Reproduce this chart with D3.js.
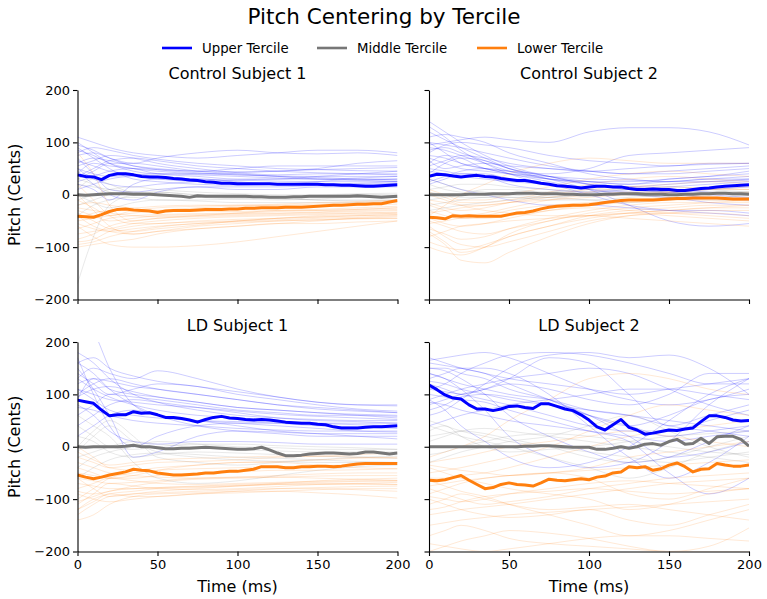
<!DOCTYPE html>
<html><head><meta charset="utf-8">
<script src="https://cdn.jsdelivr.net/npm/d3@7"></script>
<style>
body{margin:0;background:#fff}
svg{display:block}
text{font-family:"DejaVu Sans",sans-serif;fill:#000}
</style>
</head><body><svg id="chart" width="767" height="599"></svg>
<script>
// ---------------- DATA ----------------
const chartTitle = "Pitch Centering by Tercile";
const panelTitles = ["Control Subject 1", "Control Subject 2", "LD Subject 1", "LD Subject 2"];
const seriesNames = ["Upper Tercile", "Middle Tercile", "Lower Tercile"];
const seriesColors = ["#0000ff", "#777777", "#ff7f0e"];
const xTicks = [0, 50, 100, 150, 200];
const yTicks = [-200, -100, 0, 100, 200];
const xLabel = "Time (ms)";
const yLabel = "Pitch (Cents)";

// time grid of the tercile means (ms)
const meanTimes = [0,5,10,15,20,25,30,35,40,45,50,55,60,65,70,75,80,85,90,95,100,105,110,115,120,125,130,135,140,145,150,155,160,165,170,175,180,185,190,195,200];
// time grid of the single-trial traces (ms)
const trialTimes = [0,10,20,35,50,75,100,125,150,175,200];

// Control Subject 1 means
const cs1Upper  = [38,35,34,29,37,40,40,38,35,34,34,33,31,30,28,27,25,24,22,22,21,21,21,21,21,20,20,20,20,20,20,19,19,18,18,17,16,16,17,18,19];
const cs1Middle = [0,-1,0,1,2,2,2,1,1,1,0,-1,-2,-3,-5,-2,-3,-3,-3,-3,-3,-3,-4,-4,-5,-5,-5,-4,-4,-3,-3,-3,-3,-3,-3,-2,-3,-4,-5,-4,-3];
const cs1Lower  = [-41,-42,-43,-38,-32,-28,-27,-29,-30,-31,-34,-31,-30,-30,-30,-29,-28,-28,-28,-27,-27,-26,-26,-25,-25,-25,-24,-24,-24,-23,-22,-21,-20,-20,-19,-18,-18,-17,-17,-14,-11];
// Control Subject 2 means
const cs2Upper  = [35,39,38,36,34,36,37,35,34,31,29,27,27,25,22,20,17,16,15,13,15,16,16,15,15,12,10,10,11,10,10,8,8,10,12,13,15,16,17,18,19];
const cs2Middle = [0,0,0,0,0,1,1,1,2,2,2,3,3,3,2,2,2,1,1,0,0,0,1,1,2,2,2,1,1,1,0,0,1,1,2,2,3,3,2,2,1];
const cs2Lower  = [-43,-44,-46,-40,-41,-40,-41,-41,-41,-41,-38,-35,-34,-31,-27,-24,-22,-21,-20,-20,-19,-17,-15,-13,-11,-10,-10,-10,-10,-9,-8,-7,-7,-6,-6,-6,-6,-7,-8,-8,-8];
// LD Subject 1 means
const ld1Upper  = [89,86,83,70,59,61,61,67,64,65,61,56,56,54,51,47,52,56,58,55,54,52,51,52,51,49,47,46,45,45,43,42,38,36,36,36,37,38,38,39,40];
const ld1Middle = [0,-1,0,0,0,0,1,3,0,0,-2,-4,-4,-3,-3,-2,-1,-2,-3,-4,-5,-5,-4,-1,-6,-12,-17,-17,-16,-14,-13,-12,-12,-13,-14,-13,-10,-10,-12,-14,-12];
const ld1Lower  = [-54,-58,-61,-58,-54,-51,-48,-43,-45,-46,-50,-52,-54,-54,-53,-52,-50,-50,-48,-47,-47,-45,-43,-38,-38,-38,-40,-40,-38,-38,-37,-37,-38,-37,-35,-33,-32,-32,-32,-32,-32];
// LD Subject 2 means
const ld2Upper  = [118,109,99,93,91,80,72,72,69,72,77,78,75,73,82,82,77,72,69,61,51,38,32,42,52,37,32,24,26,29,32,31,34,36,48,59,59,56,51,49,50];
const ld2Middle = [0,0,0,0,0,0,0,0,0,0,0,0,1,1,2,2,1,0,-1,-1,-1,-5,-5,-3,0,-3,0,5,6,3,10,14,5,6,16,6,19,20,20,14,1];
const ld2Lower  = [-64,-65,-63,-59,-55,-64,-72,-80,-78,-72,-69,-72,-73,-75,-69,-62,-64,-65,-63,-61,-63,-58,-56,-50,-48,-38,-40,-38,-45,-42,-35,-31,-38,-48,-43,-42,-32,-35,-37,-37,-35];

// single-trial traces, Control Subject 1
const cs1UpperTrials = [
  [110,100,90,80,75,70,75,80,85,85,80],
  [75,80,70,60,70,80,85,80,78,80,75],
  [60,70,65,55,50,45,50,55,55,55,55],
  [40,60,55,50,40,35,30,30,35,40,45],
  [20,10,-10,20,30,30,25,20,25,30,30],
  [50,30,20,15,20,25,28,30,30,32,35],
  [90,70,50,30,25,20,18,20,20,20,22],
  [30,45,60,60,55,45,40,35,30,28,25],
  [70,40,10,5,10,15,15,15,18,20,20],
  [55,65,75,70,60,50,42,38,40,40,40],
  [100,80,60,45,40,40,42,45,50,60,65],
  [45,20,0,-10,5,15,10,10,15,15,15],
  [85,75,60,50,45,40,38,36,35,35,35],
  [35,50,65,70,65,55,50,45,42,40,38],
  [65,55,45,40,35,30,28,26,25,25,25],
  [25,35,45,50,48,45,44,45,48,50,52],
  [95,85,70,55,48,42,38,35,33,30,28],
  [10,20,30,35,30,25,22,20,20,22,25],
  [80,90,85,75,68,60,55,50,48,46,45],
  [50,40,35,38,40,38,35,32,30,28,30]
];
const cs1MiddleTrials = [
  [-170,-80,-20,0,5,0,-5,-5,-3,0,-2],
  [20,15,10,5,0,-5,-8,-10,-8,-5,-5],
  [-20,-10,0,5,0,-3,-5,-5,-2,0,0],
  [10,30,20,5,5,0,0,-3,-5,-5,-5],
  [-40,-20,-10,-5,-10,-10,-8,-5,-10,-10,-10],
  [30,20,5,0,-2,-5,-5,-8,-10,-12,-12],
  [-10,0,10,15,10,5,2,0,0,2,3],
  [0,-15,-25,-15,-10,-12,-15,-15,-15,-15,-15]
];
const cs1LowerTrials = [
  [-60,-80,-95,-100,-100,-97,-90,-80,-70,-60,-50],
  [-90,-85,-70,-60,-55,-52,-50,-48,-45,-43,-40],
  [-40,-60,-70,-75,-70,-65,-60,-55,-50,-45,-45],
  [0,-30,-60,-75,-70,-60,-55,-50,-48,-45,-42],
  [-30,-40,-50,-45,-40,-38,-36,-35,-33,-30,-28],
  [-50,-45,-40,-35,-30,-25,-22,-20,-18,-15,-12],
  [-75,-70,-65,-55,-50,-45,-42,-40,-38,-35,-33],
  [-20,-15,-20,-25,-22,-20,-20,-18,-15,-13,-10],
  [-100,-95,-90,-85,-75,-65,-60,-55,-55,-52,-50],
  [80,40,-20,-50,-45,-40,-35,-30,-30,-28,-25],
  [-10,-25,-40,-30,-25,-22,-20,-20,-22,-20,-18],
  [-55,-65,-70,-65,-60,-55,-50,-45,-42,-40,-38],
  [-85,-75,-60,-50,-45,-42,-40,-38,-36,-35,-35],
  [-35,-50,-65,-70,-65,-58,-50,-45,-40,-38,-35],
  [-65,-55,-45,-40,-38,-36,-35,-32,-30,-28,-25],
  [-45,-35,-30,-28,-30,-32,-32,-30,-28,-25,-22],
  [-95,-90,-80,-70,-62,-55,-52,-50,-48,-46,-45],
  [20,-10,-40,-55,-55,-50,-47,-45,-43,-40,-38],
  [-25,-30,-35,-40,-42,-40,-38,-36,-34,-32,-30]
];
// single-trial traces, Control Subject 2
const cs2UpperTrials = [
  [140,120,100,75,55,35,20,10,5,0,-5],
  [95,100,105,110,105,100,120,128,128,120,95],
  [80,95,100,95,90,75,65,60,55,60,60],
  [60,75,70,50,45,40,50,75,80,85,90],
  [120,105,90,70,50,30,10,-20,-50,-60,-55],
  [50,45,40,40,30,20,0,-20,-30,-35,-40],
  [40,60,70,65,50,35,25,20,25,30,35],
  [75,70,60,50,40,25,10,0,-5,-15,-20],
  [20,30,40,35,20,10,5,10,15,20,25],
  [100,80,60,50,40,30,25,20,30,35,45],
  [30,20,10,0,-10,-20,-20,-25,-30,-30,-35],
  [65,50,55,60,55,50,45,40,45,50,55],
  [110,115,110,100,80,60,40,30,25,30,30],
  [90,85,75,60,45,30,25,25,30,35,40],
  [70,60,50,45,40,35,30,28,25,25,28],
  [130,110,85,60,40,20,10,5,0,-5,-10],
  [55,65,75,70,60,50,45,50,55,58,60],
  [85,90,80,65,50,35,20,10,5,10,15],
  [45,40,35,30,25,20,15,15,20,25,30],
  [100,95,90,80,70,55,45,40,40,45,50],
  [25,35,45,50,45,30,20,15,10,5,0]
];
const cs2MiddleTrials = [
  [10,15,20,20,15,10,5,0,-5,-5,0],
  [-20,-15,-10,-5,-5,-10,-10,-5,0,5,5],
  [30,20,10,5,0,-5,-10,-15,-10,-5,-5],
  [-10,-5,0,10,10,5,5,10,15,10,5],
  [20,10,5,0,-5,-5,0,5,5,5,5],
  [-30,-25,-20,-15,-10,-5,0,0,-5,-10,-10],
  [5,0,-5,-5,0,5,10,10,5,0,0]
];
const cs2LowerTrials = [
  [-100,-110,-115,-100,-80,-60,-40,-30,-25,-20,-20],
  [-60,-80,-95,-100,-90,-70,-50,-40,-35,-30,-30],
  [-20,-30,-40,-35,-25,-10,0,5,5,10,10],
  [-40,-20,0,20,40,60,70,65,60,60,60],
  [-80,-70,-60,-55,-50,-45,-40,-35,-40,-45,-50],
  [0,-10,-20,-30,-35,-40,-40,-35,-30,-25,-20],
  [-50,-60,-70,-75,-65,-50,-35,-25,-20,-15,-10],
  [-10,-15,-20,-20,-15,-5,5,15,20,25,20],
  [-70,-90,-110,-100,-75,-50,-40,-45,-50,-55,-60],
  [-30,-40,-45,-40,-30,-20,-15,-10,-5,0,5],
  [10,0,-10,-10,0,15,30,40,45,40,35],
  [-90,-100,-105,-95,-80,-60,-45,-35,-30,-25,-25],
  [-45,-55,-60,-55,-45,-30,-20,-15,-10,-10,-12],
  [-15,-25,-30,-25,-15,0,10,15,15,12,10],
  [-65,-75,-85,-80,-65,-45,-30,-20,-15,-15,-15],
  [-35,-30,-25,-20,-15,-10,-5,0,5,10,15],
  [-75,-95,-125,-130,-110,-80,-55,-40,-35,-35,-40],
  [5,-5,-15,-15,-10,5,20,30,35,30,25],
  [-55,-50,-45,-45,-40,-30,-25,-30,-35,-40,-45]
];
// single-trial traces, LD Subject 1
const ld1UpperTrials = [
  [160,140,110,80,60,40,30,25,20,20,20],
  [130,150,140,130,145,130,110,95,85,80,80],
  [100,120,130,120,110,100,90,80,75,70,65],
  [170,100,40,0,20,40,45,45,45,45,45],
  [90,130,110,100,95,85,75,70,65,62,60],
  [250,220,150,80,60,50,45,40,35,30,28],
  [60,80,100,95,90,80,70,65,60,60,58],
  [110,90,70,60,55,50,48,45,40,38,35],
  [140,120,100,110,120,115,100,90,80,72,68],
  [20,40,60,70,60,50,40,30,25,20,15],
  [80,60,30,10,5,10,10,8,5,5,5],
  [150,110,60,-20,-10,20,30,28,25,25,25],
  [120,130,125,115,110,100,90,80,72,68,65],
  [95,110,115,105,95,85,75,70,65,60,55],
  [75,70,60,50,45,40,35,32,30,30,30],
  [180,160,130,100,85,70,60,55,52,50,50],
  [110,100,90,85,80,75,68,62,58,55,52],
  [40,60,80,90,85,75,65,55,50,48,45],
  [130,110,95,80,70,60,55,50,45,42,40],
  [160,170,150,135,125,115,105,95,85,80,78]
];
const ld1MiddleTrials = [
  [0,30,50,20,-20,-30,-35,-30,-25,-20,-18],
  [-20,-10,0,10,5,0,-5,-8,-10,-10,-10],
  [20,10,-10,-20,-15,-10,-12,-15,-18,-20,-22],
  [-40,-20,-10,0,10,5,0,-2,-5,-5,-5],
  [60,40,20,-30,-60,-70,-65,-55,-45,-38,-35],
  [-10,20,40,10,-10,-20,-25,-28,-30,-30,-30],
  [40,20,0,-5,0,5,5,2,0,-2,-5],
  [-60,-40,-25,-15,-12,-15,-20,-22,-25,-28,-30]
];
const ld1LowerTrials = [
  [-140,-130,-110,-95,-90,-88,-85,-85,-88,-92,-98],
  [-120,-100,-90,-85,-80,-78,-75,-72,-70,-70,-72],
  [-60,-80,-95,-90,-85,-80,-75,-70,-65,-62,-60],
  [-30,-40,-50,-55,-58,-60,-58,-55,-52,-50,-50],
  [-100,-80,-60,-50,-45,-42,-40,-38,-36,-34,-30],
  [-20,-30,-40,-35,-30,-28,-25,-20,-18,-15,-12],
  [-80,-70,-60,-65,-70,-72,-70,-68,-66,-65,-65],
  [-50,-55,-60,-55,-45,-35,-30,-28,-25,-22,-20],
  [-110,-90,-70,-75,-80,-82,-80,-76,-72,-70,-68],
  [0,-20,-40,-45,-40,-35,-30,-30,-35,-40,-42],
  [-90,-100,-105,-100,-95,-90,-85,-80,-78,-76,-75],
  [-70,-75,-80,-80,-78,-75,-72,-70,-68,-66,-65],
  [-130,-110,-95,-90,-88,-85,-82,-80,-80,-82,-85],
  [-40,-50,-60,-60,-55,-50,-48,-45,-45,-44,-42],
  [-85,-90,-85,-75,-68,-62,-60,-58,-56,-55,-55],
  [-10,-25,-35,-30,-25,-22,-20,-18,-18,-20,-22],
  [-105,-95,-85,-80,-78,-76,-74,-72,-72,-72,-72],
  [-60,-65,-70,-68,-65,-60,-58,-58,-60,-62,-64],
  [-120,-105,-90,-95,-95,-90,-88,-85,-82,-80,-80]
];
// single-trial traces, LD Subject 2
const ld2UpperTrials = [
  [170,160,150,140,120,90,60,40,60,90,100],
  [110,120,140,160,175,180,175,160,140,120,120],
  [140,130,110,70,20,-20,-40,-30,10,80,130],
  [130,140,150,150,140,100,40,-20,-60,-30,20],
  [80,90,100,110,130,170,160,100,40,60,80],
  [60,70,90,120,150,175,180,170,175,150,100],
  [100,95,90,85,70,50,30,10,-50,-90,-60],
  [140,130,120,110,100,90,70,60,50,40,30],
  [90,70,40,10,-20,-40,-30,0,50,100,130],
  [120,110,100,110,120,110,90,80,100,140,140],
  [40,50,60,70,80,90,100,110,110,100,90],
  [150,150,140,130,110,90,60,20,-20,-10,10],
  [160,155,150,140,130,120,110,100,110,120,130],
  [90,100,110,120,130,140,150,140,110,80,60],
  [125,120,110,100,90,80,70,60,40,30,20],
  [70,80,95,100,95,80,60,40,20,30,40],
  [150,145,130,100,60,20,-10,-30,-20,10,40],
  [110,105,100,90,80,60,40,30,30,50,70],
  [85,80,70,60,50,40,30,20,10,20,30],
  [165,170,175,180,170,140,110,90,80,90,110]
];
const ld2MiddleTrials = [
  [40,30,20,10,0,-20,-40,-60,-40,-10,10],
  [10,20,30,35,30,20,10,0,-10,-20,-30],
  [-30,-20,-10,0,10,20,40,60,30,0,-20],
  [30,40,20,0,-10,-5,0,10,20,25,30],
  [20,25,30,25,15,0,-20,-30,-20,0,20],
  [-15,-10,0,10,20,25,20,10,0,-10,-15],
  [50,40,30,20,10,0,-10,-20,-30,-20,-10]
];
const ld2LowerTrials = [
  [-200,-190,-180,-170,-160,-165,-175,-190,-200,-190,-155],
  [-170,-160,-150,-160,-175,-185,-190,-195,-200,-200,-200],
  [-110,-100,-90,-100,-110,-120,-115,-110,-120,-130,-140],
  [-90,-80,-70,-60,-55,-50,-60,-90,-100,-80,-60],
  [-40,-50,-60,-70,-80,-90,-100,-120,-110,-90,-80],
  [-20,-10,0,20,50,90,130,140,130,110,100],
  [-60,-60,-55,-50,-40,-20,0,20,30,40,50],
  [-80,-90,-100,-110,-105,-95,-80,-70,-60,-55,-50],
  [-130,-125,-120,-115,-110,-100,-90,-80,-70,-65,-60],
  [-30,-25,-20,-10,0,10,20,30,20,10,0],
  [-100,-110,-120,-130,-135,-130,-120,-140,-150,-130,-110],
  [-75,-70,-65,-60,-55,-50,-45,-40,-35,-30,-25],
  [-150,-145,-140,-135,-130,-125,-120,-115,-110,-105,-100],
  [-50,-45,-40,-30,-20,0,30,60,80,70,60],
  [-185,-190,-195,-200,-195,-185,-175,-170,-170,-175,-180],
  [-120,-115,-105,-95,-90,-85,-80,-85,-90,-85,-80],
  [-35,-40,-45,-50,-55,-50,-40,-20,-10,0,10],
  [-65,-75,-85,-95,-110,-130,-150,-170,-160,-140,-120],
  [-95,-100,-105,-100,-90,-80,-70,-65,-70,-75,-80]
];

// ---------------- LAYOUT ----------------
const panels = [
  {title: panelTitles[0], means: [cs1Upper, cs1Middle, cs1Lower], trials: [cs1UpperTrials, cs1MiddleTrials, cs1LowerTrials], x0: 77.5, y0: 90, showX: false, showY: true},
  {title: panelTitles[1], means: [cs2Upper, cs2Middle, cs2Lower], trials: [cs2UpperTrials, cs2MiddleTrials, cs2LowerTrials], x0: 429, y0: 90, showX: false, showY: false},
  {title: panelTitles[2], means: [ld1Upper, ld1Middle, ld1Lower], trials: [ld1UpperTrials, ld1MiddleTrials, ld1LowerTrials], x0: 77.5, y0: 342, showX: true, showY: true},
  {title: panelTitles[3], means: [ld2Upper, ld2Middle, ld2Lower], trials: [ld2UpperTrials, ld2MiddleTrials, ld2LowerTrials], x0: 429, y0: 342, showX: true, showY: false}
];
const PW = 320, PH = 209.5;
const trialOpacity = [0.2, 0.16, 0.17];

const svg = d3.select("#chart");
svg.append("rect").attr("width", 767).attr("height", 599).attr("fill", "#fff");

svg.append("text").attr("x", 384).attr("y", 24).attr("text-anchor", "middle")
  .style("font-size", "21.5px").text(chartTitle);

// legend
const legendX = [162, 317, 477];
seriesNames.forEach((name, i) => {
  const g = svg.append("g").attr("transform", `translate(${legendX[i]},48)`);
  g.append("line").attr("x1", 0).attr("x2", 30).attr("y1", 0).attr("y2", 0)
    .attr("stroke", seriesColors[i]).attr("stroke-width", 2.6);
  g.append("text").attr("x", 40).attr("y", 4.8).style("font-size", "13.3px").text(name);
});

const x = d3.scaleLinear().domain([0, 200]).range([0, PW]);
const y = d3.scaleLinear().domain([-200, 200]).range([PH, 0]);

panels.forEach((p, pi) => {
  const g = svg.append("g").attr("transform", `translate(${p.x0},${p.y0})`);
  const clipId = "clip" + pi;
  g.append("clipPath").attr("id", clipId).append("rect")
    .attr("x", 0).attr("y", 0).attr("width", PW).attr("height", PH);
  const plot = g.append("g").attr("clip-path", `url(#${clipId})`);

  const trialLine = d3.line().x((d, i) => x(trialTimes[i])).y(d => y(d)).curve(d3.curveMonotoneX);
  const meanLine = d3.line().x((d, i) => x(meanTimes[i])).y(d => y(d));

  // single trials
  [0, 1, 2].forEach(s => {
    p.trials[s].forEach(tr => {
      plot.append("path").attr("d", trialLine(tr)).attr("fill", "none")
        .attr("stroke", seriesColors[s]).attr("stroke-width", 1)
        .attr("stroke-opacity", trialOpacity[s]);
    });
  });
  // means: middle first, then lower, then upper
  [1, 2, 0].forEach(s => {
    plot.append("path").attr("d", meanLine(p.means[s])).attr("fill", "none")
      .attr("stroke", seriesColors[s]).attr("stroke-width", 3)
      .attr("stroke-linejoin", "round");
  });

  // axes
  const xa = d3.axisBottom(x).tickValues(xTicks).tickSize(4.5).tickSizeOuter(0).tickPadding(3.5);
  if (!p.showX) xa.tickFormat("");
  const gx = g.append("g").attr("transform", `translate(0,${PH})`).call(xa);
  const ya = d3.axisLeft(y).tickValues(yTicks).tickSize(4.5).tickSizeOuter(0).tickPadding(3)
    .tickFormat(d => d < 0 ? "\u2212" + Math.abs(d) : d);
  if (!p.showY) ya.tickFormat("");
  const gy = g.append("g").call(ya);
  [gx, gy].forEach(a => {
    a.attr("font-size", 13).attr("font-family", '"DejaVu Sans",sans-serif');
    a.selectAll("path.domain").attr("stroke", "#000").attr("stroke-width", 1.1);
    a.selectAll(".tick line").attr("stroke", "#000").attr("stroke-width", 1.1);
    a.selectAll(".tick text").style("font-size", "13px").attr("fill", "#000");
  });

  g.append("text").attr("x", PW / 2).attr("y", -11).attr("text-anchor", "middle")
    .style("font-size", "16px").text(p.title);

  if (p.showY) {
    svg.append("text").attr("transform", `translate(20,${p.y0 + PH / 2}) rotate(-90)`)
      .attr("text-anchor", "middle").style("font-size", "16px").text(yLabel);
  }
  if (p.showX) {
    g.append("text").attr("x", PW / 2).attr("y", 250).attr("text-anchor", "middle")
      .style("font-size", "16px").text(xLabel);
  }
});
</script></body></html>
